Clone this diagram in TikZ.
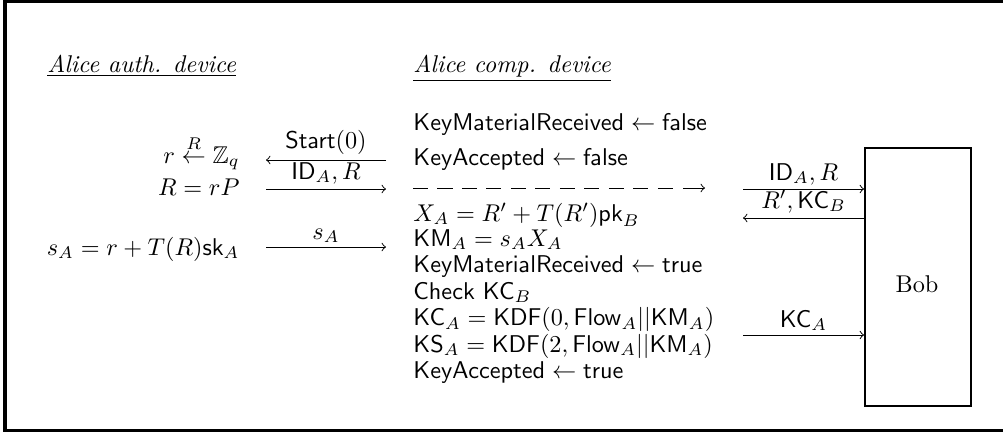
\documentclass[tikz,border=0pt]{standalone}
\usepackage{amsmath,amssymb}
\usetikzlibrary{calc}
\begin{document}
\begin{tikzpicture}[x=0.4125pt,y=-0.4125pt,
  msg/.style={-to, line width=0.4pt},
  dmsg/.style={line width=0.4pt, dash pattern=on 6.2pt off 3.9pt},
  lbl/.style={anchor=base, inner sep=0pt},
  txt/.style={anchor=base west, inner sep=0pt},
  ltxt/.style={anchor=base east, inner sep=0pt},
  frame/.style={line width=1.25pt},
  boxst/.style={draw, line width=0.8pt, minimum width=43.7pt, minimum height=106.4pt, inner sep=0pt}]
\useasboundingbox (0,0) rectangle (1003,432);
\draw[frame] (1010,1.3) -- (5,1.3) -- (5,430.5) -- (1010,430.5);
% headers
\node[txt] (h1) at (47,72) {\underline{\textit{Alice auth. device}}};
\node[txt] (h2) at (413,72) {\underline{\textit{Alice comp. device}}};
% left column
\node[ltxt] (l1) at (240,163) {$r \overset{R}{\leftarrow} \mathbb{Z}_q$};
\node[ltxt] (l2) at (240,195) {$R = rP$};
\node[ltxt] (l3) at (240,255) {$s_A = r + T(R)\mathsf{sk}_A$};
% left arrows
\coordinate (a1l) at (266,160); \coordinate (a1r) at (386,160);
\coordinate (a2l) at (266,189); \coordinate (a2r) at (386,189);
\coordinate (a3l) at (266,247); \coordinate (a3r) at (386,247);
\draw[msg] (a1r) -- node[lbl, yshift=4.9pt] {$\mathsf{Start}(0)$} (a1l);
\draw[msg] (a2l) -- node[lbl, yshift=4.1pt] {$\mathsf{ID}_A, R$} (a2r);
\draw[msg] (a3l) -- node[lbl, yshift=3.3pt] {$s_A$} (a3r);
% middle column
\node[txt] (m1) at (413,130) {$\mathsf{KeyMaterialReceived} \leftarrow \mathsf{false}$};
\node[txt] (m2) at (413,165) {$\mathsf{KeyAccepted} \leftarrow \mathsf{false}$};
\coordinate (dl) at (413,188); \coordinate (dm) at (673,188);
\coordinate (dn) at (683,188); \coordinate (dr) at (705,188);
\draw[dmsg] (dl) -- (dm);
\draw[msg] (dn) -- (dr);
\node[txt] (m3) at (413,221) {$X_A = R' + T(R')\mathsf{pk}_B$};
\node[txt] (m4) at (413,246) {$\mathsf{KM}_A = s_A X_A$};
\node[txt] (m5) at (413,272.5) {$\mathsf{KeyMaterialReceived} \leftarrow \mathsf{true}$};
\node[txt] (m6) at (413,299) {$\mathsf{Check}\ \mathsf{KC}_B$};
\node[txt] (m7) at (413,325.5) {$\mathsf{KC}_A = \mathsf{KDF}(0, \mathsf{Flow}_A || \mathsf{KM}_A)$};
\node[txt] (m8) at (413,352) {$\mathsf{KS}_A = \mathsf{KDF}(2, \mathsf{Flow}_A || \mathsf{KM}_A)$};
\node[txt] (m9) at (413,378.5) {$\mathsf{KeyAccepted} \leftarrow \mathsf{true}$};
% Bob
\node[boxst] (bob) at (918,277) {};
\node[inner sep=0pt] (bobt) at (917,284) {Bob};
% right arrows
\coordinate (b1) at (743,189);
\coordinate (b2) at (743,218);
\coordinate (b3) at (743,335);
\draw[msg] (b1) -- node[lbl, yshift=3.7pt] {$\mathsf{ID}_A, R$} (b1 -| bob.west);
\draw[msg] (b2 -| bob.west) -- node[lbl, yshift=4.1pt] {$R', \mathsf{KC}_B$} (b2);
\draw[msg] (b3) -- node[lbl, yshift=3.3pt] {$\mathsf{KC}_A$} (b3 -| bob.west);
\end{tikzpicture}
\end{document}
